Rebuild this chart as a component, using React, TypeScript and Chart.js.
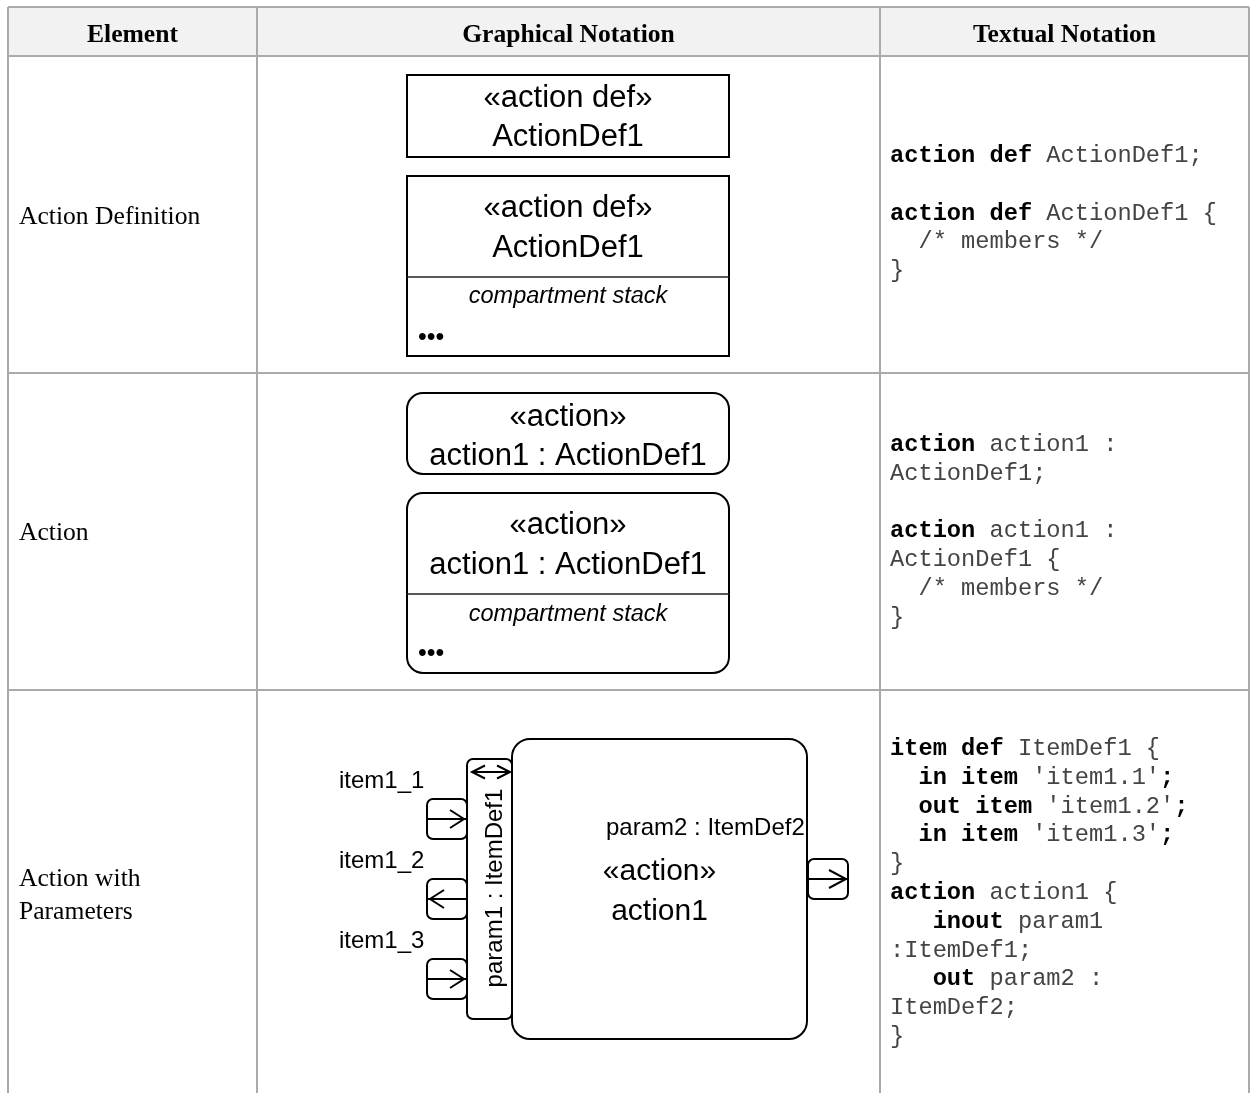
import React, { useEffect, useRef } from "react";
import { Chart, registerables } from "chart.js";

Chart.register(...registerables);

const W = 1250;
const H = 1093;

// ---------- table data ----------
const headers = ["Element", "Graphical Notation", "Textual Notation"];
const columnEdges = [8, 257, 880, 1249];
const rowEdges = [7, 56, 373, 690];
const elementLabels = [["Action Definition"], ["Action"], ["Action with", "Parameters"]];
const elementBaselines = [[224], [540], [886, 919]];

type Seg = [string, boolean];
const codeRow1: Seg[][] = [
  [["action def", true], [" ActionDef1;", false]],
  [],
  [["action def", true], [" ActionDef1 {", false]],
  [["  /* members */", false]],
  [["}", false]],
];
const codeRow2: Seg[][] = [
  [["action", true], [" action1 :", false]],
  [["ActionDef1;", false]],
  [],
  [["action", true], [" action1 :", false]],
  [["ActionDef1 {", false]],
  [["  /* members */", false]],
  [["}", false]],
];
const codeRow3: Seg[][] = [
  [["item def", true], [" ItemDef1 {", false]],
  [["  in item", true], [" 'item1.1'", false], [";", true]],
  [["  out item", true], [" 'item1.2'", false], [";", true]],
  [["  in item", true], [" 'item1.3'", false], [";", true]],
  [["}", false]],
  [["action", true], [" action1 {", false]],
  [["   inout", true], [" param1", false]],
  [[":ItemDef1;", false]],
  [["   out", true], [" param2 :", false]],
  [["ItemDef2;", false]],
  [["}", false]],
];
const codeRows = [codeRow1, codeRow2, codeRow3];
const codeFirstBaseline = [162, 451, 755];

// ---------- diagram texts ----------
const defStereotype = "«action def»";
const defName = "ActionDef1";
const actionStereotype = "«action»";
const actionName = "action1 : ActionDef1";
const compartmentLabel = "compartment stack";
const moreLabel = "•••";
const itemLabels = ["item1_1", "item1_2", "item1_3"];
const itemDirections = ["in", "out", "in"];
const param1Label = "param1 : ItemDef1";
const param2Label = "param2 : ItemDef2";
const action1Stereotype = "«action»";
const action1Name = "action1";

// ---------- geometry (in scale units) ----------
const G = {
  defBox: { x0: 407, y0: 75, x1: 729, y1: 157, b1: 107, b2: 146 },
  defBoxC: { x0: 407, y0: 176, x1: 729, y1: 356, div: 277, b1: 217, b2: 257, bc: 303, bm: 337 },
  actBox: { x0: 407, y0: 393, x1: 729, y1: 474, b1: 426, b2: 465 },
  actBoxC: { x0: 407, y0: 493, x1: 729, y1: 673, div: 594, b1: 534, b2: 574, bc: 621, bm: 653 },
  main: { x0: 512, y0: 739, x1: 807, y1: 1039 },
  param: { x0: 467, y0: 759, x1: 512, y1: 1019 },
  portX: [427, 467],
  portY: [799, 879, 959],
  portH: 40,
  labelX: 339,
  labelBase: [788, 868, 948],
  outPort: { x0: 808, y0: 859, x1: 848, y1: 899 },
};

const SANS = "'Liberation Sans', Arial, sans-serif";
const SERIF = "'Liberation Serif', 'Times New Roman', serif";
const MONO = "'Liberation Mono', 'Courier New', monospace";

const tablePlugin = {
  id: "tablePlugin",
  beforeDraw(chart: any) {
    const { ctx } = chart;
    ctx.save();
    ctx.fillStyle = "#ffffff";
    ctx.fillRect(0, 0, chart.width, chart.height);
    ctx.restore();
  },
  afterDraw(chart: any) {
    const { ctx } = chart;
    const xs = chart.scales.x;
    const ys = chart.scales.y;
    const X = (v: number) => xs.getPixelForValue(v);
    const Y = (v: number) => ys.getPixelForValue(v);

    const text = (s: string, x: number, y: number, font: string, align: CanvasTextAlign = "left", color = "#000") => {
      ctx.font = font;
      ctx.fillStyle = color;
      ctx.textAlign = align;
      ctx.textBaseline = "alphabetic";
      ctx.fillText(s, X(x), Y(y));
    };
    const line = (x0: number, y0: number, x1: number, y1: number, color = "#000", w = 2) => {
      ctx.beginPath();
      ctx.strokeStyle = color;
      ctx.lineWidth = w;
      ctx.moveTo(X(x0), Y(y0));
      ctx.lineTo(X(x1), Y(y1));
      ctx.stroke();
    };
    const box = (x0: number, y0: number, x1: number, y1: number, r: number) => {
      ctx.beginPath();
      ctx.fillStyle = "#fff";
      ctx.strokeStyle = "#000";
      ctx.lineWidth = 2;
      const px = X(x0), py = Y(y0), pw = X(x1) - X(x0), ph = Y(y1) - Y(y0);
      if (r > 0) ctx.roundRect(px, py, pw, ph, r);
      else ctx.rect(px, py, pw, ph);
      ctx.fill();
      ctx.stroke();
    };
    const chevron = (tipX: number, tipY: number, dir: number, len: number, half: number) => {
      ctx.beginPath();
      ctx.strokeStyle = "#000";
      ctx.lineWidth = 2;
      ctx.moveTo(X(tipX - dir * len), Y(tipY - half));
      ctx.lineTo(X(tipX), Y(tipY));
      ctx.lineTo(X(tipX - dir * len), Y(tipY + half));
      ctx.stroke();
    };

    ctx.save();

    // header background
    ctx.fillStyle = "#f2f2f2";
    ctx.fillRect(X(columnEdges[0]), Y(rowEdges[0]), X(columnEdges[3]) - X(columnEdges[0]), Y(rowEdges[1]) - Y(rowEdges[0]));

    // grid lines
    const gridColor = "#aaaaaa";
    columnEdges.forEach((cx) => line(cx, rowEdges[0], cx, H, gridColor, 2));
    rowEdges.forEach((ry) => line(columnEdges[0], ry, columnEdges[3], ry, gridColor, 2));

    // headers
    headers.forEach((h, i) => {
      const cx = (columnEdges[i] + columnEdges[i + 1]) / 2;
      text(h, cx, 42, `bold 25.6px ${SERIF}`, "center");
    });

    // element column
    elementLabels.forEach((lines, r) => {
      lines.forEach((l, k) => text(l, 19, elementBaselines[r][k], `25.6px ${SERIF}`));
    });

    // textual notation
    const step = 28.8;
    codeRows.forEach((rows, r) => {
      rows.forEach((segs, k) => {
        const by = codeFirstBaseline[r] + k * step;
        let cx = X(890);
        segs.forEach(([s, bold]) => {
          ctx.font = `${bold ? "bold " : ""}23.7px ${MONO}`;
          ctx.fillStyle = bold ? "#000" : "#444";
          ctx.textAlign = "left";
          ctx.textBaseline = "alphabetic";
          ctx.fillText(s, cx, Y(by));
          cx += ctx.measureText(s).width;
        });
      });
    });

    // ---- row 1: action definition ----
    const mid1 = (G.defBox.x0 + G.defBox.x1) / 2;
    box(G.defBox.x0, G.defBox.y0, G.defBox.x1, G.defBox.y1, 0);
    text(defStereotype, mid1, G.defBox.b1, `31px ${SANS}`, "center");
    text(defName, mid1, G.defBox.b2, `31px ${SANS}`, "center");

    const d = G.defBoxC;
    box(d.x0, d.y0, d.x1, d.y1, 0);
    line(d.x0, d.div, d.x1, d.div, "#222", 1.6);
    text(defStereotype, mid1, d.b1, `31px ${SANS}`, "center");
    text(defName, mid1, d.b2, `31px ${SANS}`, "center");
    text(compartmentLabel, mid1, d.bc, `italic 23.5px ${SANS}`, "center");
    text(moreLabel, d.x0 + 11, d.bm + 8, `25px ${SANS}`, "left");

    // ---- row 2: action ----
    const a = G.actBox;
    box(a.x0, a.y0, a.x1, a.y1, 16);
    text(actionStereotype, mid1, a.b1, `31px ${SANS}`, "center");
    text(actionName, mid1, a.b2, `31px ${SANS}`, "center");

    const ac = G.actBoxC;
    box(ac.x0, ac.y0, ac.x1, ac.y1, 16);
    line(ac.x0, ac.div, ac.x1, ac.div, "#222", 1.6);
    text(actionStereotype, mid1, ac.b1, `31px ${SANS}`, "center");
    text(actionName, mid1, ac.b2, `31px ${SANS}`, "center");
    text(compartmentLabel, mid1, ac.bc, `italic 23.5px ${SANS}`, "center");
    text(moreLabel, ac.x0 + 11, ac.bm + 8, `25px ${SANS}`, "left");

    // ---- row 3: action with parameters ----
    const m = G.main;
    box(m.x0, m.y0, m.x1, m.y1, 18);
    const p = G.param;
    box(p.x0, p.y0, p.x1, p.y1, 6);

    // double arrow at top of param box
    const dy = 772;
    line(p.x0 + 5, dy, p.x1 - 2, dy);
    chevron(p.x0 + 5, dy, -1, 13, 6.5);
    chevron(p.x1 - 2, dy, 1, 13, 6.5);

    // rotated param label
    ctx.save();
    ctx.translate(X(502), Y(888));
    ctx.rotate(-Math.PI / 2);
    ctx.font = `24px ${SANS}`;
    ctx.fillStyle = "#000";
    ctx.textAlign = "center";
    ctx.textBaseline = "alphabetic";
    ctx.fillText(param1Label, 0, 0);
    ctx.restore();

    // item ports
    itemLabels.forEach((lab, i) => {
      const py0 = G.portY[i];
      const py1 = py0 + G.portH;
      const midY = (py0 + py1) / 2;
      const [px0, px1] = G.portX;
      box(px0, py0, px1, py1, 6);
      line(px0, midY, px1, midY);
      if (itemDirections[i] === "in") chevron(px1 - 3, midY, 1, 14, 9);
      else chevron(px0 + 3, midY, -1, 14, 9);
      text(lab, G.labelX, G.labelBase[i], `24px ${SANS}`);
    });

    // output port
    const o = G.outPort;
    box(o.x0, o.y0, o.x1, o.y1, 6);
    const oy = (o.y0 + o.y1) / 2;
    line(o.x0, oy, o.x1, oy);
    chevron(o.x1 - 2, oy, 1, 17, 9);

    text(param2Label, 606, 835, `24px ${SANS}`);
    const mmid = (m.x0 + m.x1) / 2;
    text(action1Stereotype, mmid, 880, `30px ${SANS}`, "center");
    text(action1Name, mmid, 920, `30px ${SANS}`, "center");

    ctx.restore();
  },
};

export default function App() {
  const ref = useRef<HTMLCanvasElement | null>(null);
  useEffect(() => {
    if (!ref.current) return;
    const chart = new Chart(ref.current, {
      type: "scatter",
      data: { datasets: [{ data: [], showLine: false, pointRadius: 0 }] },
      options: {
        responsive: false,
        animation: false,
        events: [],
        layout: { padding: 0 },
        plugins: { legend: { display: false }, tooltip: { enabled: false } },
        scales: {
          x: { type: "linear", display: false, min: 0, max: W },
          y: { type: "linear", display: false, min: 0, max: H, reverse: true },
        },
      },
      plugins: [tablePlugin],
    } as any);
    return () => chart.destroy();
  }, []);
  return (
    <div style={{ position: "absolute", left: 0, top: 0, width: W, height: H }}>
      <canvas ref={ref} width={W} height={H} style={{ display: "block", width: W, height: H }} />
    </div>
  );
}
